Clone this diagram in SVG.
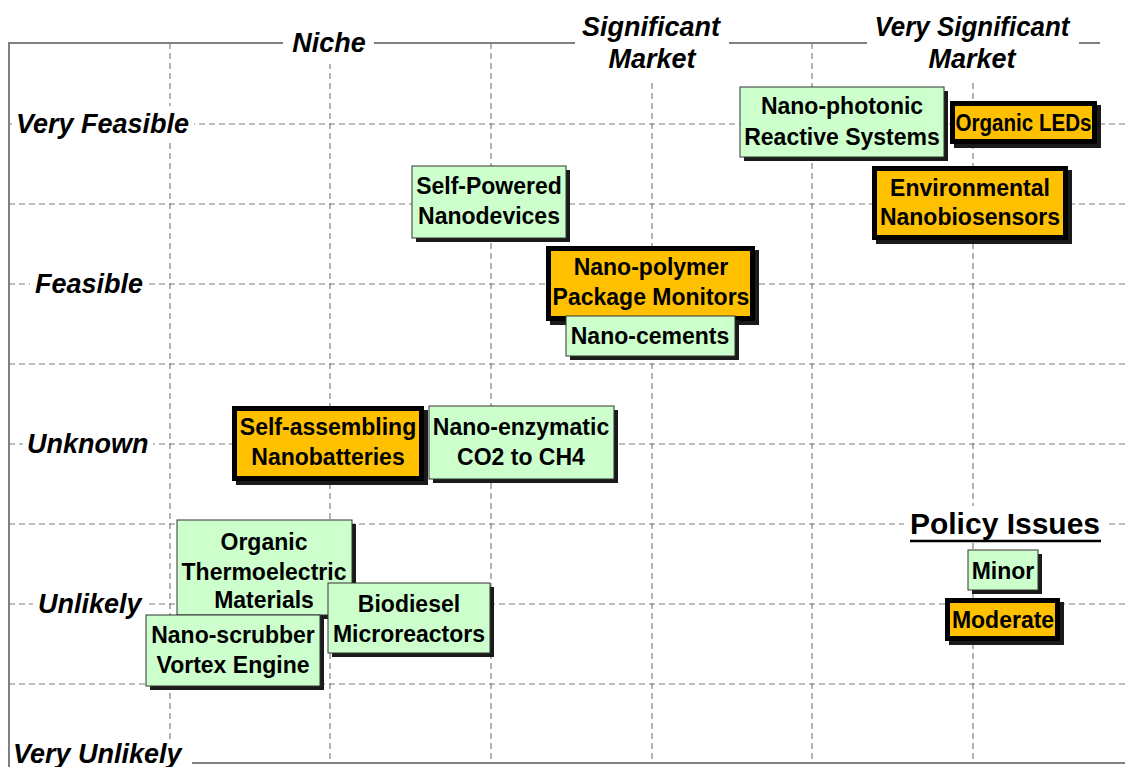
<svg xmlns="http://www.w3.org/2000/svg" width="1125" height="767" viewBox="0 0 1125 767">
<style>
.grid{stroke:#808080;stroke-width:1.2;stroke-dasharray:6,4;fill:none}
.frame{stroke:#808080;stroke-width:2;fill:none}
.ax{font-family:"Liberation Sans",Arial,sans-serif;font-weight:bold;font-style:italic;font-size:27px;fill:#000}
.t{font-family:"Liberation Sans",Arial,sans-serif;font-weight:bold;font-size:23px;fill:#000;text-anchor:middle}
.sh{fill:#1a1a1a}
.g{fill:#ccffcc;stroke:#333;stroke-width:1}
.o{fill:#ffc000;stroke:#000;stroke-width:5}
.bg{fill:#fff}
</style>
<rect width="1125" height="767" fill="#fff"/>
<g id="grid">
<line class="grid" x1="9" y1="124" x2="1125" y2="124"/>
<line class="grid" x1="9" y1="204" x2="1125" y2="204"/>
<line class="grid" x1="9" y1="284" x2="1125" y2="284"/>
<line class="grid" x1="9" y1="364" x2="1125" y2="364"/>
<line class="grid" x1="9" y1="444" x2="1125" y2="444"/>
<line class="grid" x1="9" y1="524" x2="1125" y2="524"/>
<line class="grid" x1="9" y1="604" x2="1125" y2="604"/>
<line class="grid" x1="9" y1="684" x2="1125" y2="684"/>
<line class="grid" x1="170" y1="43" x2="170" y2="763"/>
<line class="grid" x1="330" y1="43" x2="330" y2="763"/>
<line class="grid" x1="491" y1="43" x2="491" y2="763"/>
<line class="grid" x1="652" y1="43" x2="652" y2="763"/>
<line class="grid" x1="812" y1="43" x2="812" y2="763"/>
<line class="grid" x1="973" y1="43" x2="973" y2="763"/>
<polyline class="frame" points="9,767 9,43 283,43"/>
<line class="frame" x1="374" y1="43" x2="575" y2="43"/>
<line class="frame" x1="729" y1="43" x2="867" y2="43"/>
<line class="frame" x1="1079" y1="43" x2="1100" y2="43"/>
<line class="frame" x1="192" y1="763" x2="1125" y2="763"/>
</g>
<g id="axis-labels">
<rect class="bg" x="286" y="22" width="86" height="42"/>
<text class="ax" x="329" y="52" text-anchor="middle">Niche</text>
<rect class="bg" x="578" y="12" width="148" height="68"/>
<text class="ax" x="651" y="36" text-anchor="middle">Significant</text>
<text class="ax" x="652" y="68" text-anchor="middle">Market</text>
<rect class="bg" x="870" y="12" width="206" height="68"/>
<text class="ax" x="972" y="36" text-anchor="middle" textLength="195" lengthAdjust="spacingAndGlyphs">Very Significant</text>
<text class="ax" x="972" y="68" text-anchor="middle">Market</text>
<rect class="bg" x="12" y="106" width="182" height="36"/>
<text class="ax" x="16" y="133">Very Feasible</text>
<rect class="bg" x="30" y="266" width="118" height="36"/>
<text class="ax" x="35" y="293">Feasible</text>
<rect class="bg" x="23" y="426" width="130" height="36"/>
<text class="ax" x="27" y="453">Unknown</text>
<rect class="bg" x="33" y="586" width="114" height="36"/>
<text class="ax" x="38" y="613">Unlikely</text>
<rect class="bg" x="10" y="740" width="180" height="27"/>
<text class="ax" x="13" y="763">Very Unlikely</text>
</g>
<g id="node-photonic">
<rect class="sh" x="744" y="91" width="204" height="70"/>
<rect class="g" x="740" y="87" width="204" height="70"/>
<text class="t" x="842" y="114">Nano-photonic</text>
<text class="t" x="842" y="145">Reactive Systems</text>
</g>
<g id="node-oleds">
<rect class="sh" x="954" y="105" width="147" height="43"/>
<rect class="o" x="952.5" y="103.5" width="142" height="38"/>
<text class="t" x="1023.5" y="131" textLength="136" lengthAdjust="spacingAndGlyphs">Organic LEDs</text>
</g>
<g id="node-env">
<rect class="sh" x="876" y="170" width="196" height="74"/>
<rect class="o" x="874.5" y="168.5" width="191" height="69"/>
<text class="t" x="970" y="196">Environmental</text>
<text class="t" x="970" y="225">Nanobiosensors</text>
</g>
<g id="node-selfpowered">
<rect class="sh" x="416" y="170" width="154" height="72"/>
<rect class="g" x="412" y="166" width="154" height="72"/>
<text class="t" x="489" y="194">Self-Powered</text>
<text class="t" x="489" y="224">Nanodevices</text>
</g>
<g id="node-polymer">
<rect class="sh" x="550" y="250" width="209" height="75"/>
<rect class="o" x="548.5" y="248.5" width="204" height="70"/>
<text class="t" x="651" y="275">Nano-polymer</text>
<text class="t" x="651" y="305">Package Monitors</text>
</g>
<g id="node-cements">
<rect class="sh" x="570" y="320" width="169" height="40"/>
<rect class="g" x="566" y="316" width="169" height="40"/>
<text class="t" x="650" y="344">Nano-cements</text>
</g>
<g id="node-nanobatteries">
<rect class="sh" x="236" y="410" width="192" height="75"/>
<rect class="o" x="234.5" y="408.5" width="187" height="70"/>
<text class="t" x="328" y="435">Self-assembling</text>
<text class="t" x="328" y="465">Nanobatteries</text>
</g>
<g id="node-enzymatic">
<rect class="sh" x="433" y="410" width="185" height="73"/>
<rect class="g" x="429" y="406" width="185" height="73"/>
<text class="t" x="521" y="435">Nano-enzymatic</text>
<text class="t" x="521" y="465">CO2 to CH4</text>
</g>
<g id="node-thermo">
<rect class="sh" x="181" y="524" width="175" height="95"/>
<rect class="g" x="177" y="520" width="175" height="95"/>
<text class="t" x="264" y="550">Organic</text>
<text class="t" x="264" y="580">Thermoelectric</text>
<text class="t" x="264" y="608">Materials</text>
</g>
<g id="node-biodiesel">
<rect class="sh" x="332" y="587" width="162" height="70"/>
<rect class="g" x="328" y="583" width="162" height="70"/>
<text class="t" x="409" y="612">Biodiesel</text>
<text class="t" x="409" y="642">Microreactors</text>
</g>
<g id="node-scrubber">
<rect class="sh" x="150" y="619" width="174" height="71"/>
<rect class="g" x="146" y="615" width="174" height="71"/>
<text class="t" x="233" y="643">Nano-scrubber</text>
<text class="t" x="233" y="673">Vortex Engine</text>
</g>
<g id="legend">
<rect class="bg" x="904" y="506" width="202" height="36"/>
<text x="1005" y="534" text-anchor="middle" style="font-family:'Liberation Sans',Arial,sans-serif;font-weight:bold;font-size:30px">Policy Issues</text>
<line x1="910" y1="541" x2="1101" y2="541" stroke="#000" stroke-width="2.5"/>
</g>
<g id="node-minor">
<rect class="sh" x="972" y="554" width="70" height="40"/>
<rect class="g" x="968" y="550" width="70" height="40"/>
<text class="t" x="1003" y="579">Minor</text>
</g>
<g id="node-moderate">
<rect class="sh" x="949" y="602" width="115" height="43"/>
<rect class="o" x="947.5" y="600.5" width="110" height="38"/>
<text class="t" x="1003" y="628">Moderate</text>
</g>
<g id="connectors"></g>
</svg>
